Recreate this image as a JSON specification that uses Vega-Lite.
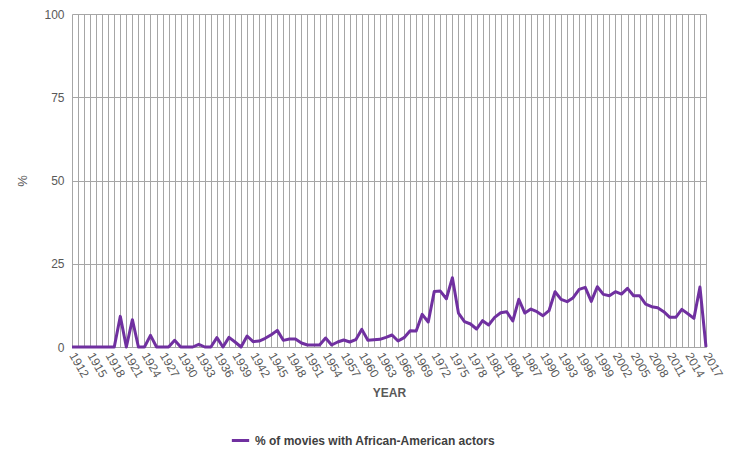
{
  "$schema": "https://vega.github.io/schema/vega-lite/v6.json",
  "width": 634,
  "height": 333,
  "autosize": "none",
  "padding": {"left": 72, "top": 14, "right": 28, "bottom": 111},
  "background": "white",
  "config": {
    "view": {"stroke": null},
    "axis": {"labelColor": "#595959", "labelFont": "Liberation Sans", "titleFont": "Liberation Sans", "titleColor": "#595959", "gridColor": "#a6a6a6", "domainColor": "#a6a6a6", "ticks": false, "labelFontSize": 12}
  },
  "data": {
    "values": [
      {"year": 1912, "pct": 0}, {"year": 1913, "pct": 0}, {"year": 1914, "pct": 0}, {"year": 1915, "pct": 0},
      {"year": 1916, "pct": 0}, {"year": 1917, "pct": 0}, {"year": 1918, "pct": 0}, {"year": 1919, "pct": 0},
      {"year": 1920, "pct": 9.2}, {"year": 1921, "pct": 0}, {"year": 1922, "pct": 8.2}, {"year": 1923, "pct": 0},
      {"year": 1924, "pct": 0}, {"year": 1925, "pct": 3.5}, {"year": 1926, "pct": 0}, {"year": 1927, "pct": 0},
      {"year": 1928, "pct": 0}, {"year": 1929, "pct": 2}, {"year": 1930, "pct": 0}, {"year": 1931, "pct": 0},
      {"year": 1932, "pct": 0}, {"year": 1933, "pct": 0.8}, {"year": 1934, "pct": 0}, {"year": 1935, "pct": 0},
      {"year": 1936, "pct": 2.8}, {"year": 1937, "pct": 0}, {"year": 1938, "pct": 2.9}, {"year": 1939, "pct": 1.5},
      {"year": 1940, "pct": 0}, {"year": 1941, "pct": 3.3}, {"year": 1942, "pct": 1.6}, {"year": 1943, "pct": 1.8},
      {"year": 1944, "pct": 2.6}, {"year": 1945, "pct": 3.7}, {"year": 1946, "pct": 5}, {"year": 1947, "pct": 2},
      {"year": 1948, "pct": 2.4}, {"year": 1949, "pct": 2.4}, {"year": 1950, "pct": 1.2}, {"year": 1951, "pct": 0.6},
      {"year": 1952, "pct": 0.6}, {"year": 1953, "pct": 0.6}, {"year": 1954, "pct": 2.7}, {"year": 1955, "pct": 0.6},
      {"year": 1956, "pct": 1.5}, {"year": 1957, "pct": 2.1}, {"year": 1958, "pct": 1.5}, {"year": 1959, "pct": 2.2},
      {"year": 1960, "pct": 5.3}, {"year": 1961, "pct": 2}, {"year": 1962, "pct": 2.2}, {"year": 1963, "pct": 2.3},
      {"year": 1964, "pct": 2.9}, {"year": 1965, "pct": 3.6}, {"year": 1966, "pct": 1.8}, {"year": 1967, "pct": 2.8},
      {"year": 1968, "pct": 4.9}, {"year": 1969, "pct": 4.8}, {"year": 1970, "pct": 9.8}, {"year": 1971, "pct": 7.5},
      {"year": 1972, "pct": 16.7}, {"year": 1973, "pct": 16.8}, {"year": 1974, "pct": 14.5}, {"year": 1975, "pct": 20.8},
      {"year": 1976, "pct": 10.2}, {"year": 1977, "pct": 7.6}, {"year": 1978, "pct": 6.9}, {"year": 1979, "pct": 5.4},
      {"year": 1980, "pct": 7.9}, {"year": 1981, "pct": 6.6}, {"year": 1982, "pct": 8.9}, {"year": 1983, "pct": 10.3},
      {"year": 1984, "pct": 10.6}, {"year": 1985, "pct": 7.8}, {"year": 1986, "pct": 14.3}, {"year": 1987, "pct": 10.2},
      {"year": 1988, "pct": 11.4}, {"year": 1989, "pct": 10.6}, {"year": 1990, "pct": 9.4}, {"year": 1991, "pct": 10.9},
      {"year": 1992, "pct": 16.6}, {"year": 1993, "pct": 14.3}, {"year": 1994, "pct": 13.6}, {"year": 1995, "pct": 14.8},
      {"year": 1996, "pct": 17.3}, {"year": 1997, "pct": 17.9}, {"year": 1998, "pct": 13.7}, {"year": 1999, "pct": 18.1},
      {"year": 2000, "pct": 15.8}, {"year": 2001, "pct": 15.4}, {"year": 2002, "pct": 16.6}, {"year": 2003, "pct": 15.9},
      {"year": 2004, "pct": 17.6}, {"year": 2005, "pct": 15.4}, {"year": 2006, "pct": 15.4}, {"year": 2007, "pct": 12.9},
      {"year": 2008, "pct": 12.1}, {"year": 2009, "pct": 11.8}, {"year": 2010, "pct": 10.6}, {"year": 2011, "pct": 8.9},
      {"year": 2012, "pct": 8.9}, {"year": 2013, "pct": 11.3}, {"year": 2014, "pct": 10}, {"year": 2015, "pct": 8.6},
      {"year": 2016, "pct": 18}, {"year": 2017, "pct": 0}
    ]
  },
  "mark": {"type": "line", "strokeWidth": 3, "strokeJoin": "round"},
  "encoding": {
    "x": {
      "field": "year", "type": "ordinal",
      "scale": {"type": "point", "padding": 0},
      "axis": {"title": "YEAR", "titleFontWeight": "bold", "titleFontSize": 12, "titlePadding": 8, "labelAngle": 60, "labelAlign": "left", "labelBaseline": "middle", "labelPadding": 6, "labelOverlap": false,
        "labelExpr": "(datum.value - 1912) % 3 == 0 ? datum.value : ''", "grid": true, "domain": true}
    },
    "y": {
      "field": "pct", "type": "quantitative",
      "scale": {"domain": [0, 100]},
      "axis": {"title": "%", "titleFontWeight": "normal", "titleFontSize": 13, "titlePadding": 14, "values": [0, 25, 50, 75, 100], "grid": true, "domain": false, "labelPadding": 8}
    },
    "color": {
      "datum": "% of movies with African-American actors",
      "scale": {"range": ["#7030a0"]},
      "legend": {"title": null, "orient": "none", "legendX": 158, "legendY": 416, "symbolType": "stroke", "symbolStrokeWidth": 3, "symbolSize": 300, "labelFontSize": 12, "labelLimit": 0, "labelFontWeight": "bold", "labelColor": "#404040", "labelFont": "Liberation Sans"}
    }
  }
}
